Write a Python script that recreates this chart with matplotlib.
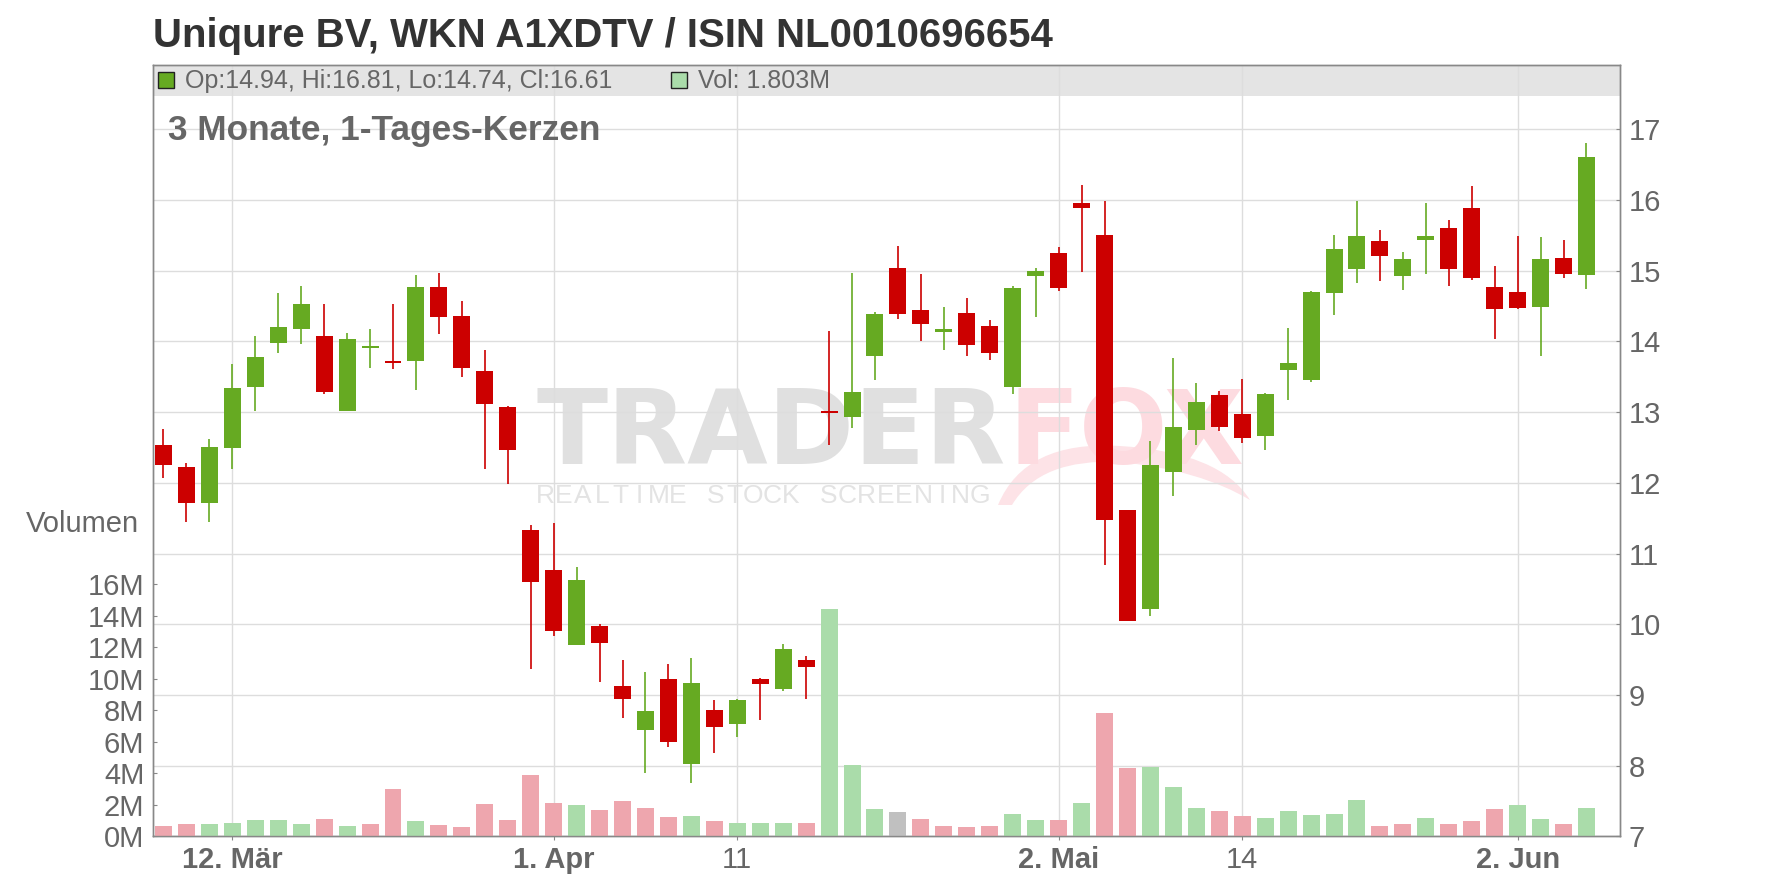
import numpy as np
import matplotlib.pyplot as plt
from matplotlib.patches import Rectangle, PathPatch
from matplotlib.path import Path

plt.rcParams['font.family'] = ['Liberation Sans', 'DejaVu Sans']

# daily candles, 7. Mär - 5. Jun
opens = [12.54, 12.23, 11.72, 12.49, 13.36, 13.98, 14.18, 14.07, 13.02, 13.90,
         13.73, 13.72, 14.77, 14.36, 13.58, 13.07, 11.34, 10.77, 9.70, 9.98,
         9.13, 8.51, 9.23, 8.03, 8.79, 8.59, 9.23, 9.09, 9.50, 13.01,
         12.93, 13.80, 15.04, 14.45, 14.14, 14.40, 14.22, 13.36, 14.93, 15.25,
         15.96, 15.51, 11.61, 10.21, 12.15, 12.75, 13.24, 12.98, 12.66, 13.60,
         13.45, 14.69, 15.02, 15.42, 14.92, 15.43, 15.60, 15.89, 14.77, 14.70,
         14.48, 15.18, 14.94]
highs = [12.76, 12.28, 12.62, 13.68, 14.07, 14.68, 14.79, 14.53, 14.12, 14.18,
         14.53, 14.94, 14.97, 14.57, 13.88, 13.08, 11.41, 11.43, 10.81, 10.00,
         9.50, 9.32, 9.44, 9.52, 8.93, 8.94, 9.24, 9.72, 9.55, 14.15,
         14.97, 14.42, 15.35, 14.96, 14.49, 14.61, 14.30, 14.78, 15.04, 15.34,
         16.21, 15.99, 11.62, 12.59, 13.77, 13.41, 13.30, 13.47, 13.27, 14.19,
         14.71, 15.51, 15.99, 15.57, 15.27, 15.96, 15.72, 16.20, 15.07, 15.49,
         15.48, 15.44, 16.81]
lows = [12.07, 11.45, 11.44, 12.20, 13.01, 13.84, 13.96, 13.26, 13.02, 13.63,
        13.61, 13.31, 14.11, 13.49, 12.20, 11.99, 9.37, 9.84, 9.70, 9.19,
        8.68, 7.90, 8.27, 7.76, 8.18, 8.41, 8.65, 9.06, 8.95, 12.53,
        12.78, 13.45, 14.32, 14.01, 13.88, 13.80, 13.74, 13.26, 14.35, 14.71,
        14.98, 10.84, 10.04, 10.12, 11.81, 12.54, 12.73, 12.57, 12.46, 13.17,
        13.43, 14.37, 14.82, 14.86, 14.73, 14.95, 14.79, 14.87, 14.04, 14.46,
        13.79, 14.89, 14.74]
closes = [12.25, 11.72, 12.50, 13.34, 13.78, 14.21, 14.53, 13.29, 14.04, 13.93,
          13.70, 14.77, 14.35, 13.63, 13.11, 12.46, 10.60, 9.90, 10.63, 9.74,
          8.95, 8.77, 8.33, 9.17, 8.55, 8.93, 9.16, 9.65, 9.39, 12.99,
          13.29, 14.39, 14.39, 14.25, 14.18, 13.95, 13.84, 14.75, 15.00, 14.76,
          15.88, 11.47, 10.05, 12.25, 12.79, 13.15, 12.79, 12.64, 13.26, 13.70,
          14.70, 15.31, 15.49, 15.21, 15.16, 15.49, 15.03, 14.89, 14.46, 14.47,
          15.16, 14.95, 16.61]
# volume in millions
volumes = [0.66, 0.79, 0.79, 0.85, 1.04, 1.04, 0.79, 1.10, 0.66, 0.79,
           3.01, 0.98, 0.72, 0.60, 2.06, 1.04, 3.90, 2.12, 1.99, 1.68,
           2.25, 1.80, 1.22, 1.30, 0.98, 0.86, 0.86, 0.86, 0.86, 14.44,
           4.53, 1.73, 1.54, 1.10, 0.66, 0.59, 0.66, 1.42, 1.03, 1.03,
           2.12, 7.83, 4.35, 4.41, 3.14, 1.80, 1.60, 1.29, 1.17, 1.60,
           1.34, 1.43, 2.30, 0.65, 0.76, 1.17, 0.76, 0.96, 1.73, 1.99,
           1.08, 0.76, 1.803]

tick_pos = [3, 17, 25, 39, 47, 59]
tick_labels = ['12. Mär', '1. Apr', '11', '2. Mai', '14', '2. Jun']
tick_bold = [True, True, False, True, False, True]
price_ticks = list(range(7, 18))
vol_ticks = list(range(0, 17, 2))

title = 'Uniqure BV, WKN A1XDTV / ISIN NL0010696654'
subtitle = '3 Monate, 1-Tages-Kerzen'
legend_ohlc = 'Op:14.94, Hi:16.81, Lo:14.74, Cl:16.61'
legend_vol = 'Vol: 1.803M'

UP = '#66aa22'
DOWN = '#cc0000'
VOL_UP = '#aadcaa'
VOL_DOWN = '#eea6ae'
VOL_FLAT = '#c0c0c0'
GRID = '#dddddd'
AXIS = '#888888'
TXT = '#666666'

W, H = 1776, 888


def fx(x):
    return x / W


def fy(y):
    return 1 - y / H


fig = plt.figure(figsize=(W / 100, H / 100), dpi=100, facecolor='white')

# watermark (behind the axes)
fig.text(fx(1006), fy(464), 'TRADER', ha='right', va='baseline', fontsize=75,
         fontweight='bold', family='DejaVu Sans', color='#e0e0e0', zorder=-5)
fig.text(fx(1008), fy(464), 'FOX', ha='left', va='baseline', fontsize=75,
         fontweight='bold', family='DejaVu Sans', color='#fddbe0', zorder=-5)
wm = 'REALTIME STOCK SCREENING'
for k, ch in enumerate(wm):
    fig.text(fx(545 + k * 18.9), fy(503), ch, ha='center', va='baseline',
             fontsize=19, color='#e3e3e3', zorder=-5)
# rough fox swoosh
swoosh = [(998, 505), (1025, 440), (1120, 446), (1220, 452), (1250, 500),
          (1200, 470), (1120, 462), (1040, 458), (1012, 505), (998, 505)]
codes = [Path.MOVETO, Path.CURVE3, Path.CURVE3, Path.CURVE3, Path.CURVE3,
         Path.CURVE3, Path.CURVE3, Path.CURVE3, Path.CURVE3, Path.CLOSEPOLY]
fig.add_artist(PathPatch(Path([(fx(a), fy(b)) for a, b in swoosh], codes),
                         transform=fig.transFigure, facecolor='#fde3e7',
                         edgecolor='none', zorder=-6))

ax = fig.add_axes([fx(152.7), fy(836.4), fx(1620 - 152.7), (836.4 - 65.3) / H])
ax.patch.set_visible(False)
ax_vol = ax.twinx()

x = np.arange(len(opens))
o = np.array(opens)
c = np.array(closes)
candle_col = [UP if cc >= oo else DOWN for oo, cc in zip(o, c)]

vol_col = []
for i in range(len(closes)):
    prev = opens[0] if i == 0 else closes[i - 1]
    if closes[i] > prev:
        vol_col.append(VOL_UP)
    elif closes[i] < prev:
        vol_col.append(VOL_DOWN)
    else:
        vol_col.append(VOL_FLAT)

# volume bars
ax_vol.bar(x, volumes, width=0.74, color=vol_col, zorder=2)

# candles
ax.vlines(x, lows, highs, colors=candle_col, lw=1.2, zorder=2)
body_low = np.minimum(o, c)
body_h = np.maximum(np.abs(c - o), 0.03)
ax.bar(x, body_h, bottom=body_low, width=0.74, color=candle_col, zorder=3)

ax.set_xlim(-0.47, 63.46)
ax.set_ylim(7, 17.905)
ax_vol.set_ylim(0, 48.96)

# header band
ax.add_patch(Rectangle((0, 0.9606), 1, 0.0394, transform=ax.transAxes,
                       facecolor='#e4e4e4', edgecolor='none', zorder=0.1))

ax.set_axisbelow(True)
ax.grid(True, color=GRID, lw=1)

ax.yaxis.tick_right()
ax.set_yticks(price_ticks)
ax.tick_params(axis='y', direction='in', length=3, color=AXIS, labelsize=21,
               labelcolor=TXT, pad=6)
ax.set_xticks(tick_pos, tick_labels)
ax.tick_params(axis='x', direction='out', length=3, color=AXIS, labelsize=21,
               labelcolor=TXT, pad=4)
for lab, b in zip(ax.get_xticklabels(), tick_bold):
    lab.set_fontweight('bold' if b else 'normal')

ax_vol.yaxis.tick_left()
ax_vol.set_yticks(vol_ticks, [f'{v}M' for v in vol_ticks])
ax_vol.tick_params(axis='y', direction='in', length=3, color=AXIS, labelsize=21,
                   labelcolor=TXT, pad=6)

for a in (ax, ax_vol):
    for s in a.spines.values():
        s.set_color(AXIS)
        s.set_linewidth(1)

# texts
fig.text(fx(153), fy(46.7), title, ha='left', va='baseline', fontsize=28.9,
         fontweight='bold', color='#333333')
fig.text(fx(168), fy(140), subtitle, ha='left', va='baseline', fontsize=25.4,
         fontweight='bold', color=TXT)
fig.text(fx(139), fy(524), 'Volumen', ha='right', va='center', fontsize=21,
         color=TXT)

# legend in header band
fig.add_artist(Rectangle((fx(158), fy(88)), 16 / W, 16 / H, transform=fig.transFigure,
                         facecolor=UP, edgecolor='#222222', lw=1))
fig.text(fx(185), fy(88.3), legend_ohlc, ha='left', va='baseline', fontsize=18,
         color=TXT)
fig.add_artist(Rectangle((fx(671), fy(88)), 16 / W, 16 / H, transform=fig.transFigure,
                         facecolor=VOL_UP, edgecolor='#222222', lw=1))
fig.text(fx(697.5), fy(88.3), legend_vol, ha='left', va='baseline', fontsize=18,
         color=TXT)

fig.savefig('out.png', dpi=100, facecolor='white')
